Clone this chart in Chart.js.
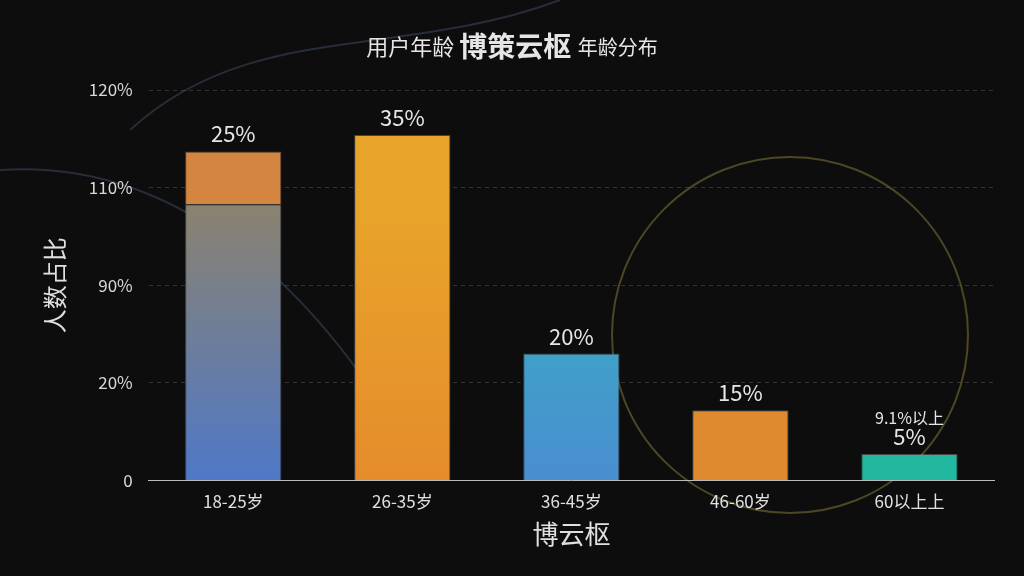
<!DOCTYPE html><html><head><meta charset="utf-8">
<script src="https://cdn.jsdelivr.net/npm/chart.js@4/dist/chart.umd.min.js"></script>
<style>html,body{margin:0;background:#0d0d0d;}#w{width:1024px;height:576px;}</style></head><body>
<div id="w"><canvas id="c"></canvas></div>
<script>
const categories=['18-25岁','26-35岁','36-45岁','46-60岁','60以上上'];
const baseValues=[2.83,3.54,1.30,0.72,0.27];
const topValues=[0.54,0,0,0,0];
const valueLabels=['25%','35%','20%','15%','5%'];
const tickLabels=['0','20%','90%','110%','120%'];
const F='"Noto Sans CJK SC", sans-serif';
const ctx=document.getElementById('c').getContext('2d');
function grad(c,a,b){const ch=c.chart,ar=ch.chartArea;if(!ar)return a;const g=ch.ctx.createLinearGradient(0,ar.bottom,0,ar.top);g.addColorStop(0,a);g.addColorStop(0.7,b);return g;}
const baseColors=[c=>grad(c,'#4f78c8','#8a8270'),c=>grad(c,'#e58c2c','#e8a42a'),c=>grad(c,'#4a8ed0','#36b3c0'),c=>'#e08a30',c=>'#22b8a0'];
const deco={id:'deco',beforeDraw(ch){const x=ch.ctx;x.save();x.strokeStyle='rgba(140,130,60,0.5)';x.lineWidth=2;x.beginPath();x.arc(790,335,178,0,Math.PI*2);x.stroke();
x.strokeStyle='rgba(90,110,140,0.35)';x.beginPath();x.moveTo(0,170);x.bezierCurveTo(150,160,300,250,420,470);x.stroke();x.beginPath();x.moveTo(130,130);x.bezierCurveTo(250,20,400,60,560,0);x.stroke();x.restore();},
afterDraw(ch){const x=ch.ctx;x.save();x.fillStyle='#e6e6e6';x.textBaseline='alphabetic';
const p1='用户年龄 ';x.font='22px '+F;let w1=x.measureText(p1).width;x.font='bold 28px '+F;let w2=x.measureText('博策云枢 ').width;x.font='20px '+F;let w3=x.measureText('年龄分布').width;let sx=512-(w1+w2+w3)/2;
x.font='22px '+F;x.fillText(p1,sx,55);x.font='bold 28px '+F;x.fillText('博策云枢 ',sx+w1,57);x.font='20px '+F;x.fillText('年龄分布',sx+w1+w2,55);
x.font='22px '+F;x.textAlign='center';
valueLabels.forEach((l,i)=>{const b=ch.getDatasetMeta(topValues[i]>0?1:0).data[i];x.fillText(l,b.x,b.y-9);});
x.font='16px '+F;const b5=ch.getDatasetMeta(0).data[4];x.fillText('9.1%以上',b5.x,b5.y-30);
x.restore();}};
new Chart(ctx,{type:'bar',data:{labels:categories,datasets:[
{data:baseValues,backgroundColor:c=>baseColors[c.dataIndex](c),barPercentage:0.57,categoryPercentage:1,borderColor:'rgba(200,200,200,0.3)',borderWidth:1},
{data:topValues,backgroundColor:'#d48540',barPercentage:0.57,categoryPercentage:1,borderColor:'rgba(200,200,200,0.3)',borderWidth:1}]},
plugins:[deco],
options:{responsive:true,maintainAspectRatio:false,animation:false,layout:{padding:{top:90,right:30,left:36,bottom:22}},
plugins:{legend:{display:false},tooltip:{enabled:false}},
scales:{x:{stacked:true,grid:{display:false},border:{color:'#bbb'},ticks:{color:'#e0e0e0',font:{size:17,family:F}},title:{display:true,text:'博云枢',color:'#e0e0e0',font:{size:26,family:F}}},
y:{stacked:true,min:0,max:4,ticks:{stepSize:1,color:'#d8d8d8',font:{size:17,family:F},callback:v=>tickLabels[v],padding:16},grid:{color:'rgba(120,120,120,0.35)',tickLength:0},border:{display:false,dash:[4,4]},title:{display:true,text:'人数占比',color:'#e0e0e0',font:{size:24,family:F}}}}}});
</script></body></html>
